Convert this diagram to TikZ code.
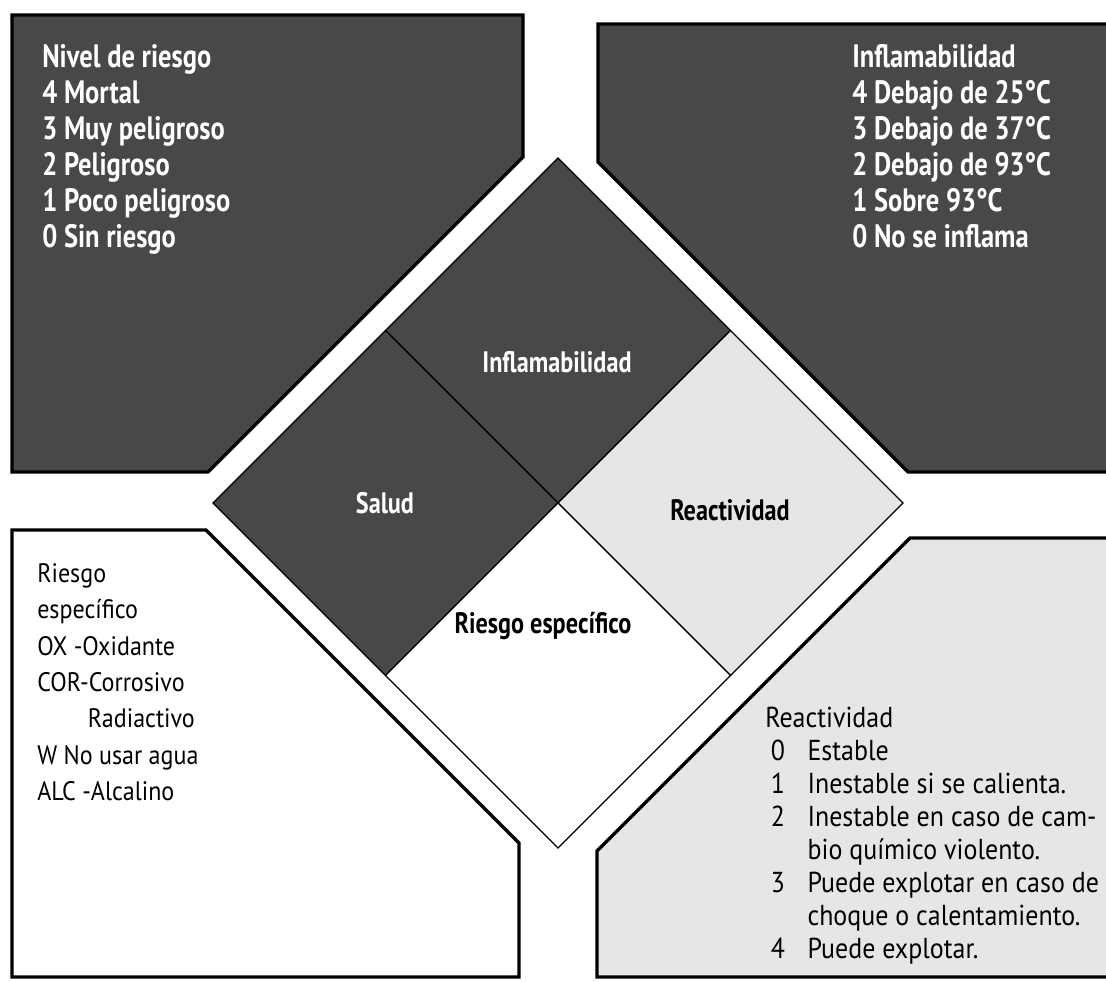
\documentclass[tikz,border=0pt]{standalone}
\usepackage{fontspec}
\setmainfont{PT Sans}
\newfontfamily\narrowfont{PT Sans}[FakeStretch=0.82]
\newfontfamily\bodyfont{PT Sans}[FakeStretch=0.9]
\usepackage{xcolor}
\definecolor{PanelDark}{RGB}{72,72,75}
\definecolor{PanelLight}{RGB}{230,230,230}
\usepackage{tikz}
\usetikzlibrary{positioning, calc}

\tikzset{
  panel/.style={draw=black, line width=2.4pt, line join=miter},
  tile/.style={draw=black, line width=0.9pt},
  headtext/.style={text=white, inner sep=0pt, anchor=north west, align=left,
    font=\narrowfont\bfseries\fontsize{23}{25.6}\selectfont},
  bodytext/.style={text=black, inner sep=0pt, anchor=north west, align=left,
    font=\bodyfont\fontsize{19}{25.9}\selectfont},
  reacttext/.style={text=black, inner sep=0pt, anchor=north west,
    font=\bodyfont\fontsize{20.5}{23.5}\selectfont},
  tilelabel/.style={inner sep=0pt, font=\narrowfont\bfseries\fontsize{21}{25}\selectfont}
}

\begin{document}
\begin{tikzpicture}[x=0.025cm, y=-0.025cm]
    \useasboundingbox (0,0) rectangle (1106,981);
    \clip (0,0) rectangle (1106,981);

    % outer panels
    \filldraw[panel, fill=PanelDark] (12,15) -- (523,15) -- (523,157) -- (208,472) -- (12,472) -- cycle;
    \filldraw[panel, fill=PanelDark] (598,24) -- (1120,24) -- (1120,472) -- (908,472) -- (598,162) -- cycle;
    \filldraw[panel, fill=white] (12,530) -- (206,530) -- (519,843) -- (519,977) -- (12,977) -- cycle;
    \filldraw[panel, fill=PanelLight] (910,538) -- (1120,538) -- (1120,977) -- (597,977) -- (597,851) -- cycle;

    % the diamond
    \coordinate (C) at (558,503);
    \coordinate (N) at (558,158);
    \coordinate (E) at (903,503);
    \coordinate (S) at (558,848);
    \coordinate (W) at (213,503);
    \coordinate (NE) at ($(N)!0.5!(E)$);
    \coordinate (SE) at ($(S)!0.5!(E)$);
    \coordinate (SW) at ($(S)!0.5!(W)$);
    \coordinate (NW) at ($(N)!0.5!(W)$);
    \filldraw[tile, fill=PanelDark] (N) -- (NE) -- (C) -- (NW) -- cycle;
    \filldraw[tile, fill=PanelDark] (NW) -- (C) -- (SW) -- (W) -- cycle;
    \filldraw[tile, fill=PanelLight] (NE) -- (E) -- (SE) -- (C) -- cycle;
    \filldraw[tile, fill=white] (C) -- (SE) -- (S) -- (SW) -- cycle;

    \node[tilelabel, text=white] (flamlabel) at (557,362) {Inflamabilidad};
    \node[tilelabel, text=white] (healthlabel) at (385,503) {Salud};
    \node[tilelabel] (reactlabel) at (730,510) {Reactividad};
    \node[tilelabel] (speclabel) at (543,626) {Riesgo específico};

    % legends
    \node[headtext] (healthlist) at (42,44) {Nivel de riesgo\\4 Mortal\\3 Muy peligroso\\2 Peligroso\\1 Poco peligroso\\0 Sin riesgo};
    \node[headtext] (flamlist) at (852,44) {Inflamabilidad\\4 Debajo de 25°C\\3 Debajo de 37°C\\2 Debajo de 93°C\\1 Sobre 93°C\\0 No se inflama};
    \node[bodytext] (speclist) at (37,563) {Riesgo\\específico\\OX -Oxidante\\COR-Corrosivo\\\hspace*{36pt}Radiactivo\\W No usar agua\\ALC -Alcalino};
    \node[reacttext] (reactlist) at (765,704) {%
      \begin{tabular}{@{\hspace{4pt}}l@{\hspace{16pt}}l@{}}
        \multicolumn{2}{@{}l}{Reactividad}\\
        0 & Estable\\
        1 & Inestable si se calienta.\\
        2 & Inestable en caso de cam-\\
          & bio químico violento.\\
        3 & Puede explotar en caso de\\
          & choque o calentamiento.\\
        4 & Puede explotar.
      \end{tabular}};
\end{tikzpicture}
\end{document}
